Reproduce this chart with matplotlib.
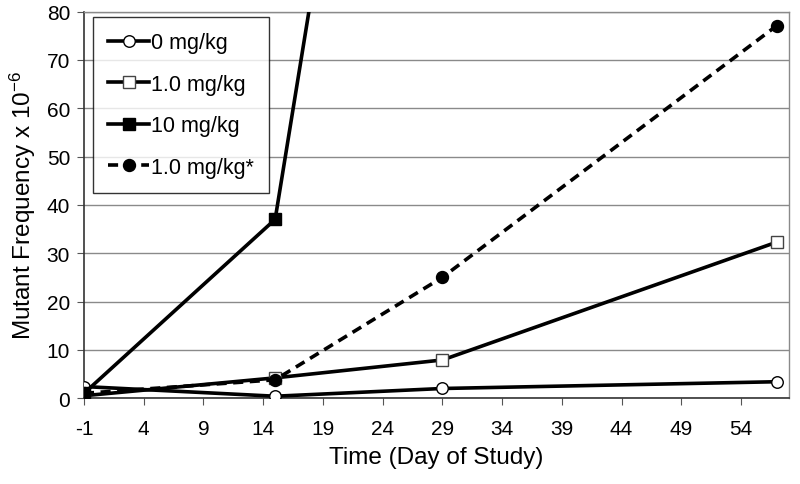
import matplotlib
matplotlib.use("Agg")
import matplotlib.pyplot as plt

plt.rcParams['font.family'] = ['Liberation Sans', 'DejaVu Sans']
plt.rcParams['mathtext.default'] = 'regular'
plt.rcParams['axes.unicode_minus'] = False

days = [-1, 15, 29, 57]
s0 = [2.4, 0.4, 2.0, 3.4]
s1 = [0.5, 4.2, 7.9, 32.3]
s10 = [1.0, 37.0, 250.0]
s1star = [1.0, 3.8, 25.0, 77.1]
xticks = [-1, 4, 9, 14, 19, 24, 29, 34, 39, 44, 49, 54]
yticks = [0, 10, 20, 30, 40, 50, 60, 70, 80]

fig = plt.figure(figsize=(8, 4.85), dpi=100)
ax = fig.add_axes([0.105, 0.177, 0.881, 0.797])

lw = 2.6
ax.plot(days, s0, color='black', lw=lw, marker='o', ms=8.3, mfc='white', mec='black', mew=1.0,
        label='0 mg/kg', zorder=3)
ax.plot(days, s1, color='black', lw=lw, marker='s', ms=8.5, mfc='white', mec='#444444', mew=1.0,
        label='1.0 mg/kg', zorder=3)
ax.plot(days[:3], s10, color='black', lw=lw, marker='s', ms=8.3, mfc='black', mec='black',
        label='10 mg/kg', zorder=3)
ax.plot(days, s1star, color='black', lw=lw, ls=(0, (2.8, 1.8)), marker='o', ms=8.6, mfc='black', mec='black',
        label='1.0 mg/kg*', zorder=3)

ax.set_xlim(-1, 58)
ax.set_ylim(0, 80)
ax.set_xticks(xticks)
ax.set_yticks(yticks)
ax.tick_params(axis='both', labelsize=15, direction='out', length=5, color='#555555')
ax.tick_params(axis='x', pad=10)
ax.tick_params(axis='y', pad=5)
ax.yaxis.grid(True, color='#8a8a8a', lw=1.0)
ax.set_axisbelow(True)
for s in ['top', 'right']:
    ax.spines[s].set_color('#8a8a8a')
    ax.spines[s].set_linewidth(1.0)
for s in ['left', 'bottom']:
    ax.spines[s].set_color('#333333')
    ax.spines[s].set_linewidth(1.2)

ax.set_xlabel('Time (Day of Study)', fontsize=17.5, labelpad=6)
ax.set_ylabel('Mutant Frequency x 10$^{-6}$', fontsize=17.5, labelpad=6)

leg = ax.legend(loc='upper left', bbox_to_anchor=(0.013, 0.985), fontsize=15.5, frameon=True, fancybox=False,
                edgecolor='black', handlelength=1.9, handletextpad=0.1, labelspacing=0.95,
                borderpad=0.7, borderaxespad=0)
leg.get_frame().set_linewidth(1.0)

fig.savefig('out.png', dpi=100)
